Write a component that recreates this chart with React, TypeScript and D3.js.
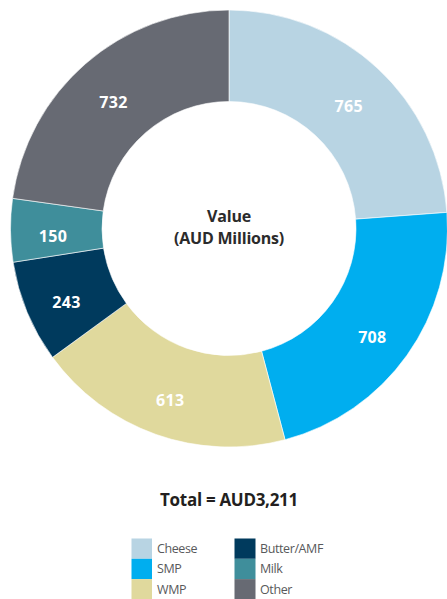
import React from "react";
import * as d3 from "d3";

const categories = ["Cheese", "SMP", "WMP", "Butter/AMF", "Milk", "Other"];
const values = [765, 708, 613, 243, 150, 732];
const colors = ["#b8d4e3", "#00aeef", "#e0d99d", "#003a5d", "#3f8e9b", "#676a73"];
const legendLeft = ["Cheese", "SMP", "WMP"];
const legendRight = ["Butter/AMF", "Milk", "Other"];

export default function App() {
  const W = 447, H = 599;
  const cx = 229, cy = 228.5, R = 218.5, r = 127;
  const data = categories.map((c, i) => ({ c, v: values[i], color: colors[i] }));
  const pie = d3.pie<any>().value((d) => d.v).sort(null);
  const arcs = pie(data);
  const arc = d3.arc<any>().innerRadius(r).outerRadius(R);
  const labelArc = d3.arc<any>().innerRadius(176).outerRadius(176);
  const colorOf = (name: string) => colors[categories.indexOf(name)];
  const font = "'Open Sans', 'Noto Sans', sans-serif";
  const rowH = 20.3;
  const legendTop = 538.5;
  return (
    <svg width={W} height={H} style={{ position: "absolute", left: 0, top: 0, background: "#fff" }} fontFamily={font}>
      <g transform={`translate(${cx},${cy})`}>
        {arcs.map((a, i) => (
          <path key={i} d={arc(a) as string} fill={a.data.color} stroke="#fff" strokeWidth={0.6} />
        ))}
        {arcs.map((a, i) => {
          const [x, y] = labelArc.centroid(a);
          return (
            <text key={"t" + i} x={x} y={y + 6} textAnchor="middle" dominantBaseline="central" fill="#fff" fontSize={16} fontWeight={700} letterSpacing={0.3}>
              {a.data.v}
            </text>
          );
        })}
        <text x={0} y={-12.5} textAnchor="middle" dominantBaseline="central" fill="#2b2b2b" fontSize={16} fontWeight={700} letterSpacing={-0.2}>Value</text>
        <text x={0} y={9.5} textAnchor="middle" dominantBaseline="central" fill="#2b2b2b" fontSize={16} fontWeight={700} letterSpacing={-0.2}>(AUD Millions)</text>
      </g>
      <text x={229} y={499} textAnchor="middle" dominantBaseline="central" fill="#231f20" fontSize={17} fontWeight={700} letterSpacing={-0.3}>
        Total = AUD3,211
      </text>
      {legendLeft.map((n, i) => (
        <g key={n}>
          <rect x={131.5} y={legendTop + i * rowH} width={20.5} height={rowH} fill={colorOf(n)} />
          <text x={157} y={legendTop + i * rowH + rowH / 2} dominantBaseline="central" fill="#58595b" fontSize={12.5} letterSpacing={-0.4}>{n}</text>
        </g>
      ))}
      {legendRight.map((n, i) => (
        <g key={n}>
          <rect x={234.5} y={legendTop + i * rowH} width={21} height={rowH} fill={colorOf(n)} />
          <text x={260} y={legendTop + i * rowH + rowH / 2} dominantBaseline="central" fill="#58595b" fontSize={12.5} letterSpacing={-0.4}>{n}</text>
        </g>
      ))}
    </svg>
  );
}
